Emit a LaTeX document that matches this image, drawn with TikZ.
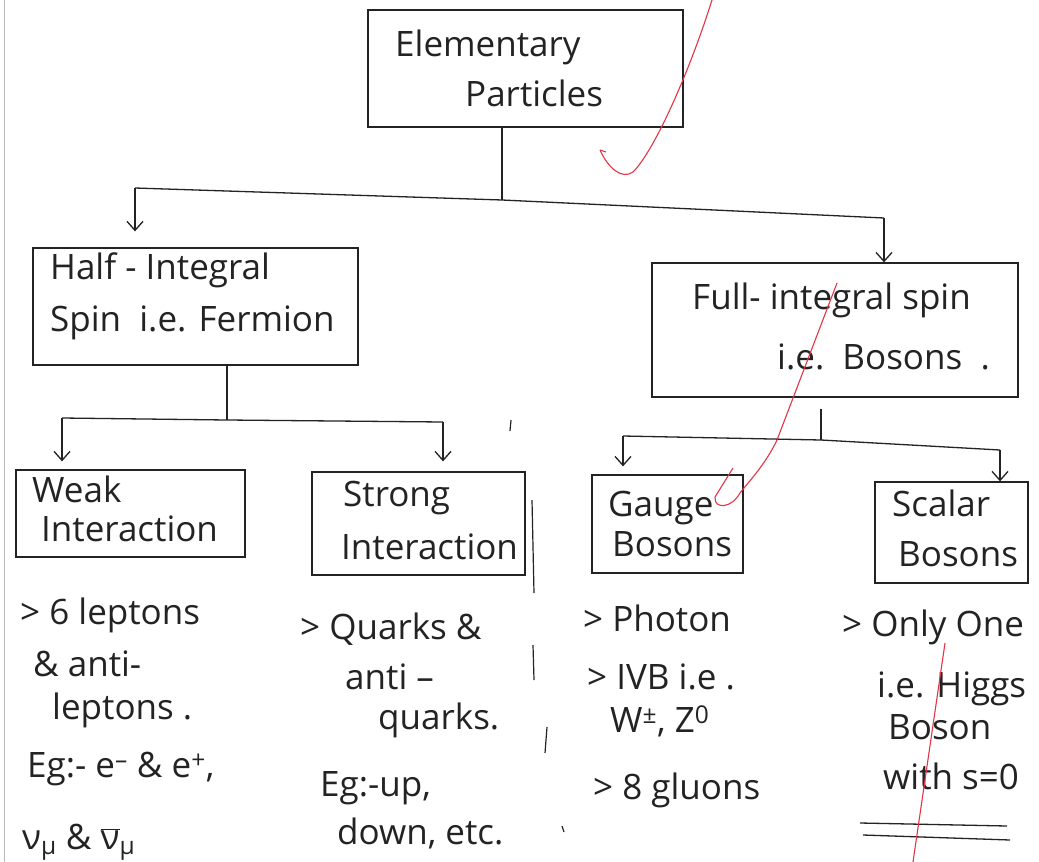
\documentclass[tikz,border=0pt]{standalone}
\usepackage{fontspec}
\setmainfont{Open Sans}
\usetikzlibrary{arrows.meta}
\definecolor{ink}{RGB}{35,35,35}
\definecolor{pen}{RGB}{228,52,72}
\begin{document}
\begin{tikzpicture}[x=1pt,y=-1pt,
  box/.style={draw=ink, line width=1.3pt, inner sep=0pt},
  hw/.style={font=\fontsize{35}{40}\selectfont, text=ink, inner sep=0pt, anchor=west, text height=26pt, text depth=7pt},
  link/.style={draw=ink, line width=1.3pt},
  arr/.style={link, -{Straight Barb[length=9pt,width=16pt]}},
  redmark/.style={draw=pen, line width=1.1pt},
  stray/.style={draw=ink, line width=1.2pt}]
\fill[white] (0,0) rectangle (1039,862);
\useasboundingbox (0,0) rectangle (1039,862);
\draw[gray!55, line width=1pt] (4,0) -- (4,862);

% boxes
\node[box, minimum width=315pt, minimum height=117pt] (elem) at (525.5,68.5) {};
\node[box, minimum width=325pt, minimum height=117pt] (half) at (195.5,306.5) {};
\node[box, minimum width=366pt, minimum height=134pt] (full) at (835,330) {};
\node[box, minimum width=229pt, minimum height=87pt] (weak) at (130.5,513.5) {};
\node[box, minimum width=213pt, minimum height=103pt] (strong) at (418.5,523.5) {};
\node[box, minimum width=151pt, minimum height=98pt] (gauge) at (667.5,524) {};
\node[box, minimum width=153pt, minimum height=101pt] (scalar) at (951.5,532.5) {};

% box texts
\node[hw] (t1) at (395,47) {Elementary};
\node[hw] (t2) at (465,97) {Particles};
\node[hw] (t3) at (50,270) {Half - Integral};
\node[hw] (t4) at (50,322) {Spin\ \ i.e. Fermion};
\node[hw] (t5) at (692,300) {Full- integral spin};
\node[hw] (t6) at (777,360) {i.e.\ \ Bosons\ \ .};
\node[hw] (t7) at (32,493) {Weak};
\node[hw] (t8) at (41,532) {Interaction};
\node[hw] (t9) at (343,497) {Strong};
\node[hw] (t10) at (341,550) {Interaction};
\node[hw] (t11) at (608,507) {Gauge};
\node[hw] (t12) at (612,547) {Bosons};
\node[hw] (t13) at (892,507) {Scalar};
\node[hw] (t14) at (898,557) {Bosons};

% lists
\node[hw] (w1) at (20,615) {> 6 leptons};
\node[hw] (w2) at (33,667) {\& anti-};
\node[hw] (w3) at (52,710) {leptons .};
\node[hw] (w4) at (27,768) {Eg:- e\textsuperscript{–} \& e\textsuperscript{+},};
\node[hw] (w5) at (22,840) {ν\textsubscript{μ} \& $\overline{\hbox{ν}}$\textsubscript{μ}};

\node[hw] (s1) at (300,630) {> Quarks \&};
\node[hw] (s2) at (345,680) {anti –};
\node[hw] (s3) at (378,720) {quarks.};
\node[hw] (s4) at (320,787) {Eg:-up,};
\node[hw] (s5) at (337,835) {down, etc.};

\node[hw] (g1) at (583,622) {> Photon};
\node[hw] (g2) at (587,680) {> IVB i.e .};
\node[hw] (g3) at (610,723) {W\textsuperscript{±}, Z\textsuperscript{0}};
\node[hw] (g4) at (593,790) {> 8 gluons};

\node[hw] (c1) at (842,627) {> Only One};
\node[hw] (c2) at (877,688) {i.e. Higgs};
\node[hw] (c3) at (888,730) {Boson};
\node[hw] (c4) at (883,780) {with s=0};
\draw[link] (860,823) -- (1007,826);
\draw[link] (863,835) -- (1010,840);

% connectors
\coordinate (j0) at (502,200);
\coordinate (jl) at (135,188);
\coordinate (jr) at (884,218);
\draw[link] (elem.south -| j0) -- (j0);
\draw[link] (jl) -- (j0) -- (jr);
\draw[arr] (jl) -- ([yshift=16pt]half.north -| jl);
\draw[arr] (jr) -- (full.north -| jr);

\coordinate (hj) at (227,420);
\coordinate (hl) at (62,418);
\coordinate (hr) at (443,422);
\draw[link] (half.south -| hj) -- (hj);
\draw[link] (hl) -- (hj) -- (hr);
\draw[arr] (hl) -- ([yshift=8pt]weak.north -| hl);
\draw[arr] (hr) -- ([yshift=10pt]strong.north -| hr);

\coordinate (fj) at (821,440);
\coordinate (fl) at (623,436);
\coordinate (fr) at (1000,450);
\draw[link] ([yshift=-11pt]full.south -| fj) -- (fj);
\draw[link] (fl) -- (fj) -- (fr);
\draw[arr] (fl) -- ([yshift=8pt]gauge.north -| fl);
\draw[arr] (fr) -- (scalar.north -| fr);

% stray pen strokes
\draw[stray] (532,500) -- (534,593);
\draw[stray] (533,645) -- (534,680);
\draw[stray] (547,727) -- (545,753);
\draw[stray] (562,826) -- (564,832);
\draw[stray] (511,420) -- (510,431);

% red marks
\draw[redmark] (712,0) .. controls (690,70) and (655,150) .. (633,172) .. controls (622,180) and (608,168) .. (600,150);
\draw[redmark] (600,150) -- (606,152);
\draw[redmark] (837,283) -- (777,440) .. controls (765,465) and (750,480) .. (740,493) .. controls (732,508) and (714,510) .. (715,497) -- (733,468);
\draw[redmark] (945,643) -- (913,862);
\end{tikzpicture}
\end{document}
